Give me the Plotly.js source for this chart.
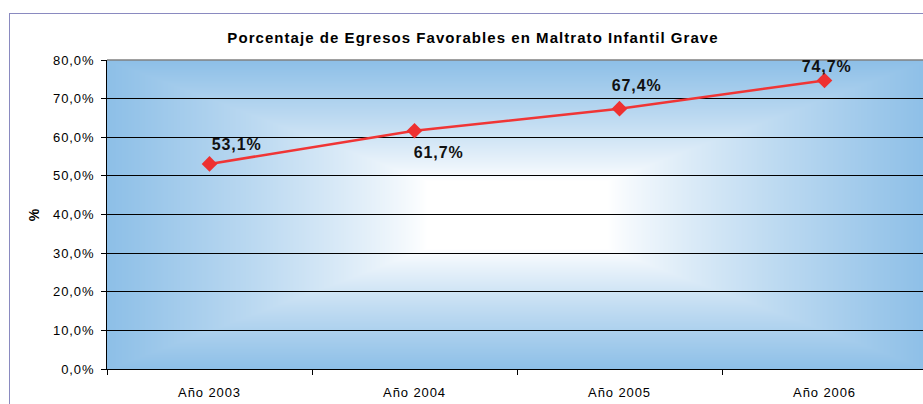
<!DOCTYPE html>
<html>
<head>
<meta charset="utf-8">
<script src="https://cdn.plot.ly/plotly-3.0.1.min.js"></script>
<style>
html,body{margin:0;padding:0;overflow:hidden;background:#fff;width:923px;height:404px;}
#chart{position:absolute;left:0;top:0;}
#chart text{letter-spacing:0.9px;}
#chart .gtitle{letter-spacing:1.05px;}
#frame{position:absolute;left:9px;top:13px;width:1000px;height:500px;border-left:1px solid #8a8ac0;border-top:1px solid #8a8ac0;pointer-events:none;}
</style>
</head>
<body>
<div id="chart"></div>
<div id="frame"></div>
<script>
const categories = ['Año 2003', 'Año 2004', 'Año 2005', 'Año 2006'];
const values = [53.1, 61.7, 67.4, 74.7];
const yTicks = [0, 10, 20, 30, 40, 50, 60, 70, 80];
const yTickLabels = ['0,0%', '10,0%', '20,0%', '30,0%', '40,0%', '50,0%', '60,0%', '70,0%', '80,0%'];
// label offsets in pixels relative to each point (style only)
const labelShiftX = [27, 24, 17, 2];
const labelShiftY = [19, -22, 23, 14];

function gradientImage(w, h) {
  const c = document.createElement('canvas');
  c.width = w; c.height = h;
  const ctx = c.getContext('2d');
  const img = ctx.createImageData(w, h);
  const edge = [141, 191, 231];
  const cx = w / 2, cy = h / 2;
  for (let y = 0; y < h; y++) {
    for (let x = 0; x < w; x++) {
      const dx = Math.abs(x - cx) / cx;
      const dy = Math.abs(y - cy) / cy;
      let t = Math.max(dx, dy);
      t = Math.min(1, Math.max(0, (t - 0.22) / 0.78));
      t = Math.pow(t, 0.85);
      const i = (y * w + x) * 4;
      img.data[i] = 255 + (edge[0] - 255) * t;
      img.data[i + 1] = 255 + (edge[1] - 255) * t;
      img.data[i + 2] = 255 + (edge[2] - 255) * t;
      img.data[i + 3] = 255;
    }
  }
  ctx.putImageData(img, 0, 0);
  return c.toDataURL('image/png');
}

const W = 940, H = 404;
const margin = {l: 107, r: 13, t: 60, b: 35};
const FONT = 'Liberation Sans, Arial, sans-serif';

const trace = {
  x: categories,
  y: values,
  type: 'scatter',
  mode: 'lines+markers',
  line: {color: '#f03535', width: 2.5},
  marker: {symbol: 'diamond', size: 12, color: '#ee3030'},
  cliponaxis: false,
  hoverinfo: 'skip'
};

const annotations = categories.map((c, i) => ({
  x: c, y: values[i], xref: 'x', yref: 'y',
  text: '<b>' + values[i].toFixed(1).replace('.', ',') + '%</b>',
  showarrow: false,
  xanchor: 'center', yanchor: 'middle',
  xshift: labelShiftX[i], yshift: labelShiftY[i],
  font: {family: FONT, size: 16, color: '#111'}
}));

const layout = {
  width: W, height: H,
  margin: margin,
  separators: ',.',
  paper_bgcolor: 'rgba(0,0,0,0)',
  plot_bgcolor: 'rgba(0,0,0,0)',
  font: {family: FONT, size: 13, color: '#000'},
  title: {
    text: '<b>Porcentaje de Egresos Favorables en Maltrato Infantil Grave</b>',
    font: {size: 15, color: '#000'},
    x: 473 / W, xanchor: 'center', y: 1 - 38 / H, yanchor: 'middle'
  },
  showlegend: false,
  annotations: annotations,
  xaxis: {
    type: 'category',
    range: [-0.5, 3.5],
    showgrid: false,
    zeroline: false,
    showline: true, linecolor: '#000', linewidth: 1,
    ticks: 'outside', ticklen: 5, tickcolor: '#000', tickson: 'boundaries',
    ticklabelstandoff: 11,
    tickfont: {size: 13},
    fixedrange: true
  },
  yaxis: {
    range: [0, 80],
    tickmode: 'array',
    tickvals: yTicks,
    ticktext: yTickLabels,
    showgrid: true, gridcolor: '#000', gridwidth: 1,
    zeroline: false,
    showline: true, linecolor: '#000', linewidth: 1,
    ticks: 'outside', ticklen: 5, tickcolor: '#000',
    ticklabelstandoff: 4,
    tickfont: {size: 13},
    title: {text: '<b>%</b>', font: {size: 14}, standoff: 14},
    fixedrange: true
  },
  images: [{
    source: gradientImage(820, 309),
    xref: 'paper', yref: 'paper',
    x: 0, y: 1, sizex: 1, sizey: 1,
    xanchor: 'left', yanchor: 'top',
    sizing: 'stretch', layer: 'below'
  }],
  shapes: [{
    type: 'line', xref: 'paper', yref: 'paper',
    x0: 0, x1: 1, y0: 1, y1: 1,
    line: {color: '#808080', width: 1.5}
  }]
};

Plotly.newPlot('chart', [trace], layout, {displayModeBar: false, staticPlot: true});
</script>
</body>
</html>
